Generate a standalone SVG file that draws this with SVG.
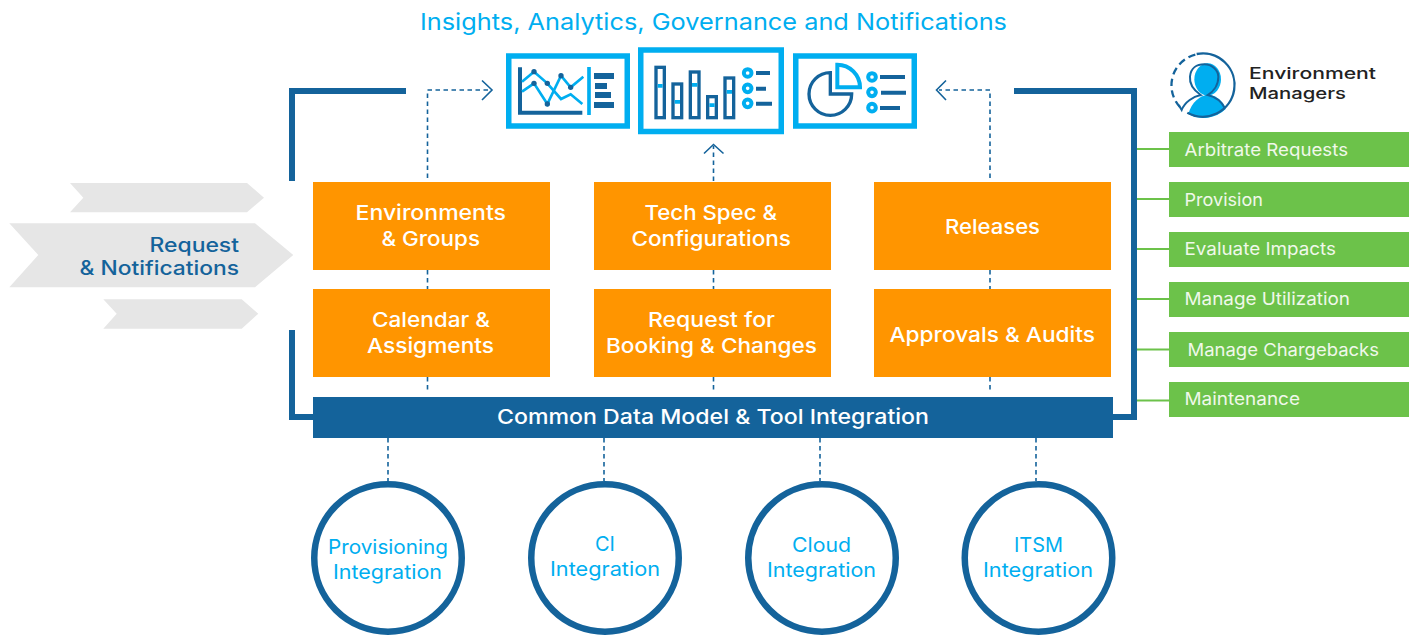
<svg xmlns="http://www.w3.org/2000/svg" width="1415" height="635" viewBox="0 0 1415 635">
<style>
text{font-family:"Inter","Liberation Sans",sans-serif}
.box{fill:#ff9500}
.bt{fill:#fff;font-size:20.5px;font-weight:500}
.ct{fill:#00aef0;font-size:20px;font-weight:400}
.gt{fill:#f0f8ea;font-size:17.5px;font-weight:400}
.green{fill:#6cc24a}
.glink{stroke:#6cc24a;stroke-width:2;fill:none}
.frame{stroke:#14639b;stroke-width:6;fill:none}
.dash{stroke:#14639b;stroke-width:1.6;stroke-dasharray:4.5 3.5;fill:none}
.chev{stroke:#14639b;stroke-width:1.6;fill:none}
.ring{fill:#fff;stroke:#14639b;stroke-width:6.500}
.gray{fill:#e6e6e6}
.panel{fill:#fff;stroke:#00aef0;stroke-width:5.5}
.dk{stroke:#14639b;fill:none}
.cy{stroke:#00aef0;fill:none}
.fd{fill:#14639b}
.fc{fill:#00aef0}
</style>

<g id="connectors">
<path class="frame" d="M406,91H292V181"/>
<path class="frame" d="M292,330V417H313"/>
<path class="frame" d="M1014,91H1134V417H1113"/>
<path class="glink" d="M1137,149H1169M1137,199H1169M1137,249H1169M1137,299H1169M1137,349.500H1169M1137,400.500H1169"/>
<path class="dash" d="M427.500,178V90H490"/>
<path class="chev" d="M482,80.500L492,90L482,100"/>
<path class="dash" d="M713.500,181V146"/>
<path class="chev" d="M704,153.500L713.500,144.500L723.500,153.500"/>
<path class="dash" d="M990,178V90H939"/>
<path class="chev" d="M946,80.500L936.500,90L946,100"/>
<path class="dash" d="M427.500,270V289M713.500,270V289M990,270V289M427.500,377V392M713.500,377V392M990,377V392"/>
<path class="dash" d="M388,438V481M604,438V481M820,438V481M1036,438V481"/>
</g>

<g id="title"><text x="420" y="30" font-size="23" fill="#00aef0" textLength="587" lengthAdjust="spacingAndGlyphs">Insights, Analytics, Governance and Notifications</text></g>

<g id="icon-line-chart">
<rect class="panel" x="508.750" y="56" width="118.500" height="70"/>
<g transform="translate(400 30) scale(.33333)">
<path class="dk" stroke-width="12" d="M360,112V248H547"/>
<path class="cy" stroke-width="11" d="M567,111V255"/>
<path class="fd" d="M582,129h60v18h-60zM585,159h36v18h-36zM585,186h48v18h-48zM582,216h60v18h-60z"/>
<path class="cy" stroke-width="8" d="M366,155L402,125L442,160L483,207L512,193L547,222"/>
<path class="cy" stroke-width="8" d="M366,185L402,160L442,222L483,137L512,172L550,140"/>
<g class="fd"><circle cx="402" cy="125" r="8"/><circle cx="402" cy="160" r="8"/><circle cx="442" cy="160" r="8"/><circle cx="442" cy="222" r="8"/><circle cx="483" cy="137" r="8"/><circle cx="512" cy="172" r="8"/></g>
</g>
</g>

<g id="icon-bar-chart">
<rect class="panel" x="640.750" y="50" width="140.500" height="81.500"/>
<g transform="translate(630 40) scale(.33333)">
<g class="dk" stroke-width="10"><rect x="78" y="82" width="25" height="151"/><rect x="129" y="132" width="26" height="101"/><rect x="181" y="96" width="26" height="137"/><rect x="233" y="170" width="26" height="63"/><rect x="285" y="114" width="26" height="119"/></g>
<path class="fc" d="M83,132h15v11h-15zM134,180h16v11h-16zM186,129h16v11h-16zM238,190h16v11h-16zM290,150h16v11h-16z"/>
<g class="cy" stroke-width="12"><circle cx="353" cy="99" r="11.500"/><circle cx="353" cy="145" r="11.500"/><circle cx="353" cy="190" r="11.500"/></g>
<path class="dk" stroke-width="12" d="M378,99H420M378,146H408M378,191H426"/>
</g>
</g>

<g id="icon-pie-chart">
<rect class="panel" x="795.750" y="56" width="118.500" height="70"/>
<g transform="translate(700 30) scale(.33333)">
<path class="dk" stroke-width="10" d="M391,128V192H455A64,64 0 1 1 391,128Z"/>
<path class="cy" stroke-width="12" d="M412,104V172H480A68,68 0 0 0 412,104Z"/>
<g class="cy" stroke-width="12"><circle cx="516" cy="141" r="11.500"/><circle cx="516" cy="187" r="11.500"/><circle cx="516" cy="233" r="11.500"/></g>
<path class="dk" stroke-width="12" d="M540,141H615M543,188H618M540,234H600"/>
</g>
</g>

<g id="environment-managers">
<g transform="translate(1160 45) scale(.33333)">
<ellipse class="fc" cx="143" cy="103" rx="40" ry="48"/>
<path class="fc" d="M85,207C95,172 120,150 145,150C170,150 192,172 197,192A95,95 0 0 1 85,207Z"/>
<path class="dk" stroke-width="7" d="M110,27A95,95 0 1 1 82,203"/>
<path class="dk" stroke-width="7" stroke-dasharray="22 13" d="M106,29A95,95 0 0 0 60,186"/>
<path class="dk" stroke-width="6" d="M56,180L65,195C75,170 100,155 122,150C100,135 88,115 90,95C92,70 110,58 133,58C155,58 175,75 175,95C175,120 160,140 143,150C165,155 185,170 195,190"/>
</g>
<text x="1249" y="79" font-size="16" font-weight="500" fill="#222" textLength="127" lengthAdjust="spacingAndGlyphs">Environment</text>
<text x="1249" y="98.500" font-size="16" font-weight="500" fill="#222" textLength="97" lengthAdjust="spacingAndGlyphs">Managers</text>
</g>

<g id="arrow-top"><path class="gray" d="M70,183H247L264,197.700L247,212.300H70L83.300,197.700Z"/></g>
<g id="request-notifications">
<path class="gray" d="M9.300,223.300H255L293.300,255L255,287.300H9.300L38.300,255Z"/>
<text x="149.500" y="252" font-size="19.500" font-weight="500" fill="#14639b" textLength="89.500" lengthAdjust="spacingAndGlyphs">Request</text>
<text x="79.500" y="275" font-size="19.500" font-weight="500" fill="#14639b" textLength="159.500" lengthAdjust="spacingAndGlyphs">&amp; Notifications</text>
</g>
<g id="arrow-bottom"><path class="gray" d="M103.300,299.300H241.700L258.300,313.700L241.700,328.700H103.300L116.700,313.700Z"/></g>

<g id="environments-groups"><rect class="box" x="313" y="182" width="237" height="88"/>
<text class="bt" x="355.500" y="220" textLength="150.500" lengthAdjust="spacingAndGlyphs">Environments</text>
<text class="bt" x="381.500" y="246" textLength="98.500" lengthAdjust="spacingAndGlyphs">&amp; Groups</text></g>
<g id="tech-spec"><rect class="box" x="594" y="182" width="237" height="88"/>
<text class="bt" x="644.500" y="220" textLength="132.500" lengthAdjust="spacingAndGlyphs">Tech Spec &amp;</text>
<text class="bt" x="631.500" y="246" textLength="159.500" lengthAdjust="spacingAndGlyphs">Configurations</text></g>
<g id="releases"><rect class="box" x="874" y="182" width="237" height="88"/>
<text class="bt" x="945" y="234" textLength="95" lengthAdjust="spacingAndGlyphs">Releases</text></g>
<g id="calendar"><rect class="box" x="313" y="289" width="237" height="88"/>
<text class="bt" x="372" y="327" textLength="118" lengthAdjust="spacingAndGlyphs">Calendar &amp;</text>
<text class="bt" x="367" y="353" textLength="127" lengthAdjust="spacingAndGlyphs">Assigments</text></g>
<g id="request-booking"><rect class="box" x="594" y="289" width="237" height="88"/>
<text class="bt" x="648" y="327" textLength="127" lengthAdjust="spacingAndGlyphs">Request for</text>
<text class="bt" x="606" y="353" textLength="211" lengthAdjust="spacingAndGlyphs">Booking &amp; Changes</text></g>
<g id="approvals"><rect class="box" x="874" y="289" width="237" height="88"/>
<text class="bt" x="889.500" y="342" textLength="205.500" lengthAdjust="spacingAndGlyphs">Approvals &amp; Audits</text></g>

<g id="common-data-model"><rect x="313" y="397" width="800" height="41" fill="#14639b"/>
<text class="bt" x="497" y="424" textLength="432" lengthAdjust="spacingAndGlyphs">Common Data Model &amp; Tool Integration</text></g>

<g id="provisioning"><circle class="ring" cx="388" cy="558" r="73.750"/>
<text class="ct" x="328" y="554" textLength="120" lengthAdjust="spacingAndGlyphs">Provisioning</text>
<text class="ct" x="333" y="578.500" textLength="109" lengthAdjust="spacingAndGlyphs">Integration</text></g>
<g id="ci"><circle class="ring" cx="605" cy="558" r="73.750"/>
<text class="ct" x="595" y="551" textLength="20" lengthAdjust="spacingAndGlyphs">CI</text>
<text class="ct" x="550" y="575.500" textLength="110" lengthAdjust="spacingAndGlyphs">Integration</text></g>
<g id="cloud"><circle class="ring" cx="822" cy="558" r="73.750"/>
<text class="ct" x="792" y="552" textLength="59" lengthAdjust="spacingAndGlyphs">Cloud</text>
<text class="ct" x="767" y="577" textLength="109" lengthAdjust="spacingAndGlyphs">Integration</text></g>
<g id="itsm"><circle class="ring" cx="1038.500" cy="558" r="73.750"/>
<text class="ct" x="1014" y="552" textLength="49" lengthAdjust="spacingAndGlyphs">ITSM</text>
<text class="ct" x="983" y="577" textLength="110" lengthAdjust="spacingAndGlyphs">Integration</text></g>

<g id="arbitrate"><rect class="green" x="1169" y="132" width="240" height="35"/><text class="gt" x="1184.500" y="156" textLength="163.500" lengthAdjust="spacingAndGlyphs">Arbitrate Requests</text></g>
<g id="provision"><rect class="green" x="1169" y="182" width="240" height="35"/><text class="gt" x="1184.500" y="205.500" textLength="78.500" lengthAdjust="spacingAndGlyphs">Provision</text></g>
<g id="evaluate"><rect class="green" x="1169" y="232" width="240" height="35"/><text class="gt" x="1184.500" y="255" textLength="151.500" lengthAdjust="spacingAndGlyphs">Evaluate Impacts</text></g>
<g id="utilization"><rect class="green" x="1169" y="282" width="240" height="35"/><text class="gt" x="1184.500" y="305" textLength="165.500" lengthAdjust="spacingAndGlyphs">Manage Utilization</text></g>
<g id="chargebacks"><rect class="green" x="1169" y="332" width="240" height="35"/><text class="gt" x="1187.500" y="356" textLength="191.500" lengthAdjust="spacingAndGlyphs">Manage Chargebacks</text></g>
<g id="maintenance"><rect class="green" x="1169" y="382" width="240" height="35"/><text class="gt" x="1184.500" y="405" textLength="115.500" lengthAdjust="spacingAndGlyphs">Maintenance</text></g>
</svg>
